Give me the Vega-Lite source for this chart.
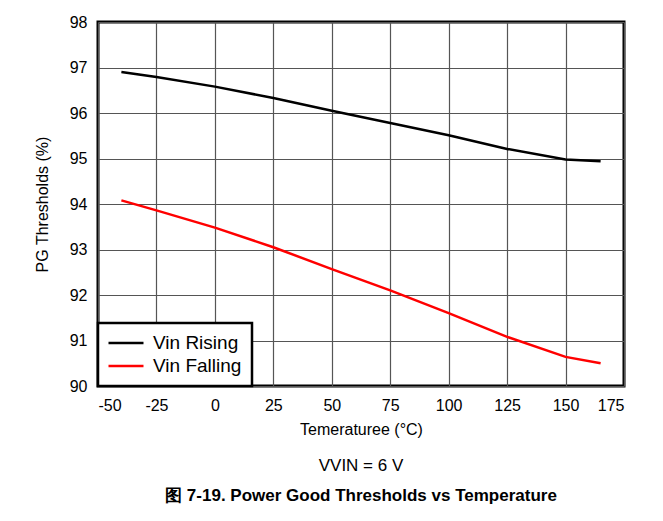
{
  "$schema": "https://vega.github.io/schema/vega-lite/v6.json",
  "width": 526,
  "height": 364,
  "autosize": {"type": "none"},
  "padding": {"left": 98, "top": 22, "right": 39, "bottom": 135},
  "background": "white",
  "title": {
    "text": "VVIN = 6 V",
    "subtitle": "图 7-19. Power Good Thresholds vs Temperature",
    "orient": "bottom",
    "anchor": "middle",
    "font": "Liberation Sans",
    "fontSize": 17,
    "fontWeight": "normal",
    "color": "black",
    "subtitleFont": "Liberation Sans",
    "subtitleFontSize": 17,
    "subtitleFontWeight": "bold",
    "subtitleColor": "black",
    "subtitlePadding": 13,
    "offset": 21
  },
  "data": {
    "values": [
      {"t": -40, "v": 96.9, "s": "Vin Rising"},
      {"t": -25, "v": 96.79, "s": "Vin Rising"},
      {"t": 0, "v": 96.58, "s": "Vin Rising"},
      {"t": 25, "v": 96.33, "s": "Vin Rising"},
      {"t": 50, "v": 96.05, "s": "Vin Rising"},
      {"t": 75, "v": 95.78, "s": "Vin Rising"},
      {"t": 100, "v": 95.51, "s": "Vin Rising"},
      {"t": 125, "v": 95.21, "s": "Vin Rising"},
      {"t": 150, "v": 94.98, "s": "Vin Rising"},
      {"t": 165, "v": 94.94, "s": "Vin Rising"},
      {"t": -40, "v": 94.08, "s": "Vin Falling"},
      {"t": -25, "v": 93.86, "s": "Vin Falling"},
      {"t": 0, "v": 93.48, "s": "Vin Falling"},
      {"t": 25, "v": 93.05, "s": "Vin Falling"},
      {"t": 50, "v": 92.57, "s": "Vin Falling"},
      {"t": 75, "v": 92.1, "s": "Vin Falling"},
      {"t": 100, "v": 91.6, "s": "Vin Falling"},
      {"t": 125, "v": 91.08, "s": "Vin Falling"},
      {"t": 150, "v": 90.64, "s": "Vin Falling"},
      {"t": 165, "v": 90.5, "s": "Vin Falling"}
    ]
  },
  "mark": {"type": "line", "strokeWidth": 2.5},
  "encoding": {
    "x": {
      "field": "t",
      "type": "quantitative",
      "scale": {"domain": [-50, 175], "nice": false},
      "axis": {
        "title": "Temeraturee (°C)",
        "values": [-50, -25, 0, 25, 50, 75, 100, 125, 150, 175],
        "labelExpr": "replace(datum.label, '−', '-')",
        "labelPadding": 11,
        "titlePadding": 8
      }
    },
    "y": {
      "field": "v",
      "type": "quantitative",
      "scale": {"domain": [90, 98], "nice": false, "zero": false},
      "axis": {
        "title": "PG Thresholds (%)",
        "values": [90, 91, 92, 93, 94, 95, 96, 97, 98],
        "labelPadding": 11,
        "titlePadding": 19
      }
    },
    "color": {
      "field": "s",
      "type": "nominal",
      "scale": {"domain": ["Vin Rising", "Vin Falling"], "range": ["black", "red"]},
      "sort": ["Vin Rising", "Vin Falling"],
      "legend": {
        "title": null,
        "orient": "bottom-left",
        "offset": 0
      }
    }
  },
  "config": {
    "view": {"stroke": "black", "strokeWidth": 3},
    "legend": {
      "strokeColor": "black",
      "strokeWidth": 2.5,
      "fillColor": "white",
      "padding": 10,
      "symbolType": "M-2,0L2,0",
      "symbolStrokeWidth": 2.5,
      "symbolSize": 306,
      "symbolOffset": 8,
      "labelFont": "Liberation Sans",
      "labelFontSize": 19,
      "labelColor": "black",
      "rowPadding": 3,
      "labelOffset": 17
    },
    "axis": {
      "domain": false,
      "ticks": false,
      "grid": true,
      "gridColor": "#555555",
      "gridWidth": 1.2,
      "gridOpacity": 1,
      "labelFont": "Liberation Sans",
      "labelFontSize": 16,
      "labelColor": "black",
      "titleFont": "Liberation Sans",
      "titleFontSize": 16,
      "titleFontWeight": "normal",
      "titleColor": "black"
    }
  }
}
